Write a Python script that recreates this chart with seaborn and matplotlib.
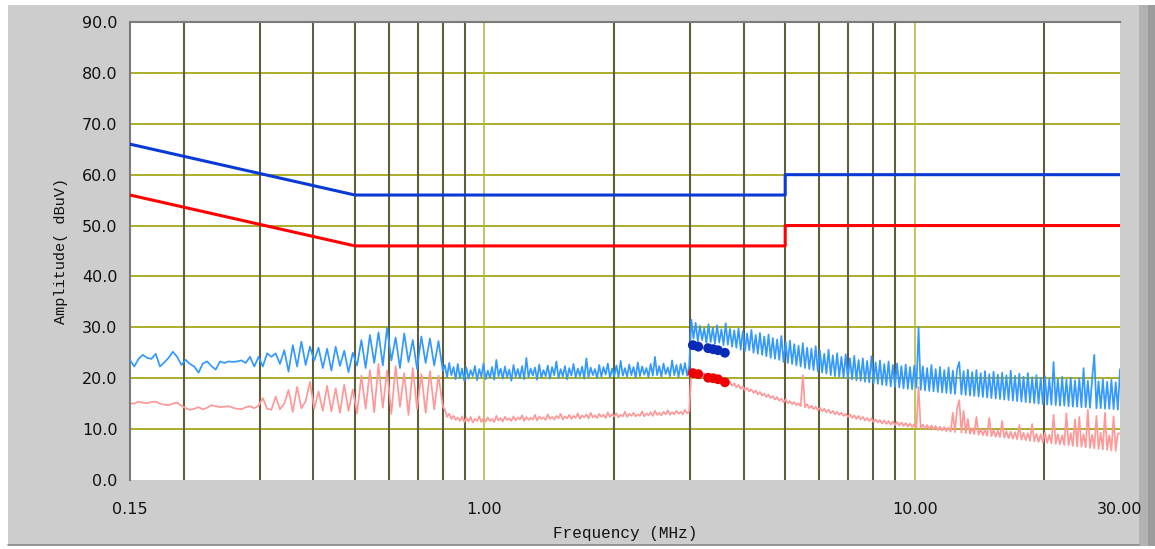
import numpy as np
import matplotlib
matplotlib.use("Agg")
import matplotlib.pyplot as plt
import seaborn as sns
from matplotlib.patches import Rectangle
from matplotlib.lines import Line2D

# limit lines (CISPR class B style)
limit_freq = [0.15, 0.5, 5.0, 5.0, 30.0]
qp_limit = [66.0, 56.0, 56.0, 60.0, 60.0]
av_limit = [56.0, 46.0, 46.0, 50.0, 50.0]

# peak scan
# 0.15 .. 0.8 MHz (coarse sweep, 74 steps)
peak_low = [23.6, 22.3, 23.8, 24.6, 24.0, 23.8, 24.8, 22.3, 23.1, 24.0,
            25.2, 24.2, 22.6, 23.6, 22.8, 22.3, 21.1, 22.9, 23.3, 22.4,
            21.7, 23.3, 23.0, 23.3, 23.2, 23.3, 23.5, 23.0, 24.2, 22.3,
            24.2, 22.3, 24.9, 24.2, 24.9, 22.8, 25.5, 21.3, 26.5, 22.3,
            27.2, 22.6, 26.2, 23.5, 26.0, 22.0, 25.8, 21.5, 26.2, 22.4,
            25.4, 21.2, 25.0, 22.5, 27.5, 22.0, 28.5, 23.0, 29.0, 22.5,
            29.9, 23.5, 28.0, 22.0, 28.8, 23.2, 27.5, 21.8, 28.2, 23.0,
            27.8, 22.5, 27.3, 21.5]
# 0.8 .. 30 MHz (fine sweep, 316 steps)
peak_dense = [
    22.6, 20.2, 23.0, 20.6, 22.2, 19.8, 22.8, 20.0, 21.9, 19.5,
    22.1, 19.9, 21.6, 20.4, 22.4, 19.6, 21.8, 20.3, 22.9, 19.8,
    21.5, 20.1, 22.2, 19.7, 23.6, 20.4, 21.9, 19.9, 22.3, 20.2,
    21.7, 19.5, 22.6, 20.3, 21.8, 20.0, 22.4, 19.8, 24.0, 20.2,
    21.9, 20.5, 22.1, 19.7, 22.7, 20.1, 21.6, 20.4, 22.5, 19.9,
    22.2, 20.6, 23.3, 20.0, 21.8, 20.3, 22.4, 19.8, 22.0, 20.5,
    22.8, 20.1, 21.9, 20.4, 22.3, 19.9, 23.9, 20.2, 22.1, 20.6,
    21.8, 20.0, 22.6, 20.3, 22.2, 20.7, 22.9, 20.1, 21.9, 20.4,
    22.5, 20.2, 23.4, 20.5, 22.0, 20.3, 22.7, 20.6, 22.2, 20.1,
    23.1, 20.4, 22.3, 20.7, 22.0, 20.2, 22.8, 20.5, 24.2, 20.6,
    22.4, 20.3, 22.9, 20.8, 22.1, 20.4, 23.5, 20.6, 22.6, 20.2,
    22.8, 20.7, 23.0, 20.5, 22.4,
    31.5, 27.8, 30.9, 27.2, 30.3, 27.5, 29.8, 26.9, 30.6, 27.1,
    29.9, 26.8, 30.4, 27.0, 29.6, 26.5, 30.8, 26.6, 29.7, 26.2,
    29.4, 26.0, 29.8, 25.6, 29.2, 25.3, 28.8, 25.5, 29.5, 25.0,
    28.5, 24.8, 28.9, 24.6, 28.2, 24.3, 28.6, 24.0, 27.9, 23.8,
    27.6, 23.6, 28.3, 23.2, 27.1, 23.0, 27.4, 22.8, 26.7, 22.5,
    26.4, 22.3, 26.9, 22.0, 26.0, 21.8, 25.8, 21.6, 26.3, 21.3,
    25.4, 21.1, 24.8, 20.9, 25.6, 20.6, 24.5, 20.4, 24.9, 20.3,
    24.2, 20.1, 24.7, 19.9, 23.9, 19.8, 24.4, 19.6, 23.6, 19.5,
    23.9, 19.3, 23.4, 19.2, 24.3, 19.0, 23.1, 18.9, 23.5, 18.7,
    22.8, 18.6, 23.3, 18.4, 22.6, 18.3, 22.9, 18.2, 22.4, 18.0,
    22.7, 17.9, 22.2, 17.8, 22.5, 18.1, 30.0, 17.7, 22.3, 17.6,
    22.0, 17.5, 22.6, 17.4, 21.8, 17.3, 22.2, 17.2, 21.6, 17.1,
    22.1, 17.0, 21.5, 16.9, 21.8, 23.2, 16.8, 21.4, 16.7, 21.7,
    16.6, 21.2, 16.5, 21.6, 16.4, 21.0, 16.3, 21.4, 16.2, 20.8,
    16.1, 21.3, 16.0, 20.7, 15.9, 21.1, 15.8, 20.6, 15.7, 21.5,
    15.6, 20.5, 15.5, 20.9, 15.4, 20.3, 15.3, 21.0, 15.2, 20.2,
    15.1, 20.6, 15.0, 20.1, 14.9, 20.4, 14.8, 19.9, 14.8, 23.2,
    14.7, 19.8, 14.6, 20.3, 14.6, 19.7, 14.5, 20.1, 14.4, 19.6,
    14.4, 20.0, 14.3, 22.0, 14.3, 19.5, 14.2, 19.9, 24.6, 14.1,
    19.4, 14.1, 19.8, 14.0, 19.3, 14.0, 19.7, 13.9, 19.2, 13.8, 21.8]

# average scan
avg_low = [15.1, 15.0, 15.4, 15.2, 15.1, 15.3, 15.4, 15.0, 14.8, 14.7,
           15.0, 15.2, 14.6, 14.1, 13.8, 14.0, 14.3, 13.9, 14.2, 14.7,
           14.5, 14.3, 14.4, 14.5, 14.2, 14.0, 13.9, 14.3, 14.5, 14.1,
           14.6, 16.1, 14.0, 13.8, 16.4, 13.9, 15.0, 17.7, 13.4, 18.3,
           14.1, 15.5, 19.3, 14.0, 17.4, 13.6, 18.5, 13.5, 18.0, 13.2,
           18.7, 13.6, 17.8, 13.1, 20.5, 14.0, 21.6, 13.3, 22.8, 14.2,
           21.5, 13.0, 22.4, 14.4, 21.0, 12.8, 22.0, 14.0, 20.8, 13.2,
           21.4, 13.9, 20.5, 14.5]
avg_dense = [
    13.8, 12.4, 13.0, 12.0, 12.6, 11.8, 12.3, 11.6, 12.5, 11.4,
    12.2, 11.5, 12.4, 11.3, 12.0, 11.6, 12.5, 11.4, 12.1, 11.5,
    12.3, 11.6, 12.0, 11.4, 12.6, 11.7, 12.2, 11.5, 12.4, 11.8,
    12.1, 11.6, 12.5, 11.7, 12.3, 11.9, 12.7, 11.6, 12.4, 11.8,
    12.2, 11.9, 12.8, 11.7, 12.5, 12.0, 12.3, 11.8, 12.9, 12.0,
    12.4, 11.9, 12.6, 12.1, 13.0, 11.9, 12.5, 12.1, 12.8, 12.0,
    12.6, 12.2, 13.1, 12.0, 12.7, 12.3, 12.9, 12.1, 13.2, 12.3,
    12.7, 12.2, 13.0, 12.4, 12.8, 12.2, 13.3, 12.4, 12.9, 12.5,
    13.1, 12.3, 12.8, 12.5, 13.4, 12.4, 13.0, 12.6, 13.2, 12.5,
    12.9, 12.6, 13.5, 12.5, 13.1, 12.7, 13.3, 12.6, 13.6, 12.8,
    13.2, 12.7, 13.4, 12.9, 13.7, 12.8, 13.3, 12.9, 13.6, 13.0,
    13.4, 12.9, 13.8, 13.1, 13.5,
    21.5, 20.6, 21.2, 20.4, 20.9, 20.2, 21.0, 19.9, 20.6, 19.8,
    20.4, 19.6, 20.2, 19.3, 19.9, 19.0, 19.6, 18.8, 19.3, 18.5,
    19.0, 18.2, 18.7, 17.9, 18.4, 17.6, 18.1, 17.4, 17.8, 17.1,
    17.6, 16.8, 17.3, 16.6, 17.0, 16.3, 16.8, 16.1, 16.5, 15.8,
    16.3, 15.6, 16.0, 15.3, 15.8, 15.1, 15.5, 14.9, 15.3, 14.7,
    15.1, 14.5, 20.6, 14.3, 14.9, 14.1, 14.6, 13.9, 14.4, 13.7,
    14.2, 13.5, 14.0, 13.3, 13.8, 13.1, 13.6, 12.9, 13.4, 12.8,
    13.2, 12.6, 13.0, 12.4, 12.9, 12.2, 12.7, 12.0, 12.6, 11.9,
    12.4, 11.7, 12.2, 11.6, 12.1, 11.4, 11.9, 11.3, 11.8, 11.1,
    11.7, 11.0, 11.6, 10.9, 11.5, 10.8, 11.4, 10.7, 11.3, 10.6,
    11.2, 10.5, 11.1, 10.4, 11.0, 10.3, 18.3, 10.2, 10.9, 10.1,
    10.8, 10.0, 10.7, 9.9, 10.6, 9.8, 10.5, 9.7, 10.4, 9.6,
    10.3, 9.5, 13.2, 9.4, 14.1, 15.7, 9.3, 13.6, 9.2, 12.0,
    9.1, 10.2, 9.0, 12.4, 8.9, 10.0, 8.8, 9.9, 8.7, 12.2,
    8.6, 9.8, 8.5, 9.7, 8.4, 11.6, 8.3, 9.6, 8.2, 9.5,
    8.1, 9.4, 8.0, 10.8, 7.9, 9.3, 7.8, 9.2, 7.7, 11.0,
    7.6, 9.1, 7.5, 9.0, 7.4, 9.4, 7.3, 8.9, 7.2, 12.8,
    7.1, 9.0, 7.0, 8.8, 6.9, 13.1, 6.8, 9.2, 6.7, 11.9,
    6.6, 12.4, 6.5, 9.0, 6.4, 13.8, 6.3, 8.9, 6.2, 12.6,
    6.1, 9.3, 6.0, 13.2, 5.9, 8.8, 5.8, 12.5, 5.7, 9.1, 9.2]

# final measurements (markers)
final_freq = [3.05, 3.14, 3.31, 3.40, 3.49, 3.62]
final_qp = [26.5, 26.2, 25.9, 25.7, 25.5, 25.0]
final_av = [21.0, 20.8, 20.1, 20.0, 19.8, 19.2]

x_major = [0.15, 1.0, 10.0, 30.0]
x_major_labels = ["0.15", "1.00", "10.00", "30.00"]
x_minor = [0.2, 0.3, 0.4, 0.5, 0.6, 0.7, 0.8, 0.9,
           2, 3, 4, 5, 6, 7, 8, 9, 20]
y_ticks = [0, 10, 20, 30, 40, 50, 60, 70, 80, 90]

# receiver sweep grid: coarse below 0.8 MHz, fine above
scan_freq = np.concatenate([
    np.geomspace(0.15, 0.8, len(peak_low)),
    np.geomspace(0.8, 30.0, len(peak_dense) + 1)[1:]])
peak_scan = peak_low + peak_dense
avg_scan = avg_low + avg_dense

sns.set_style("white")
plt.rcParams["font.family"] = ["DejaVu Sans"]

fig = plt.figure(figsize=(11.55, 5.49), dpi=100)
fig.patch.set_facecolor("white")

# window-like frame, kept behind the axes
frame = [((8, 3), 1131, 541, "#cdcdcd"),
         ((1139, 3), 9, 541, "#b2b2b2"),
         ((1148, 3), 7, 541, "#9c9c9c")]
for (x0, y0), w, h, c in frame:
    fig.add_artist(Rectangle((x0 / 1155, y0 / 549), w / 1155, h / 549,
                             transform=fig.transFigure, facecolor=c,
                             edgecolor="none", zorder=-10))
fig.add_artist(Line2D([8 / 1155, 1139 / 1155], [4 / 549, 4 / 549],
                      transform=fig.transFigure, color="#8a8a8a", lw=1.2,
                      zorder=-9))

ax = fig.add_axes([130 / 1155, 69 / 549, 990 / 1155, 458 / 549])
ax.set_zorder(1)
ax.set_facecolor("white")
ax.set_xscale("log")

# grid
for yv in y_ticks[1:-1]:
    ax.axhline(yv, color="#adad2a", lw=1.4, zorder=1)
for xv in x_minor:
    ax.axvline(xv, color="#5e5e3c", lw=1.5, zorder=1)
for xv in [1.0, 10.0]:
    ax.axvline(xv, color="#b4b432", lw=1.1, zorder=1)

# scans
sns.lineplot(x=scan_freq, y=peak_scan, ax=ax, color="#3399ff", lw=1.25,
             estimator=None, sort=False, zorder=3)
sns.lineplot(x=scan_freq, y=avg_scan, ax=ax, color="#ff9999", lw=1.25,
             estimator=None, sort=False, zorder=2)

# limits
sns.lineplot(x=limit_freq, y=qp_limit, ax=ax, color="#0a3ad6", lw=2.2,
             estimator=None, sort=False, zorder=4)
sns.lineplot(x=limit_freq, y=av_limit, ax=ax, color="#ff0000", lw=2.2,
             estimator=None, sort=False, zorder=4)

# final points
sns.scatterplot(x=final_freq, y=final_qp, ax=ax, color="#0a2ab8", s=50,
                edgecolor="none", zorder=5)
sns.scatterplot(x=final_freq, y=final_av, ax=ax, color="#ee0000", s=50,
                edgecolor="none", zorder=5)

ax.set_xlim(0.15, 30)
ax.set_ylim(0, 90)
ax.set_xticks(x_major)
ax.set_xticklabels(x_major_labels)
ax.set_xticks(x_minor, minor=True)
ax.xaxis.set_minor_formatter(plt.NullFormatter())
ax.set_yticks(y_ticks)
ax.set_yticklabels([f"{v:.1f}" for v in y_ticks])

ax.tick_params(axis="x", which="both", direction="out", length=6, width=1.2,
               color="#404040", pad=10, labelsize=11.5, labelcolor="#111111")
ax.tick_params(axis="y", direction="out", length=6, width=1.2,
               color="#404040", pad=3, labelsize=11.5, labelcolor="#111111")

for side in ["right", "bottom"]:
    ax.spines[side].set_visible(False)
for side in ["left", "top"]:
    ax.spines[side].set_color("#7a7a7a")
    ax.spines[side].set_linewidth(1.5)

ax.set_xlabel("Frequency (MHz)", family="Liberation Mono", fontsize=11.5,
              labelpad=6, color="#111111")
ax.set_ylabel("Amplitude( dBuV)", family="Liberation Mono", fontsize=11,
              labelpad=10, color="#111111")

fig.savefig("out.png", dpi=100, facecolor=fig.get_facecolor())
